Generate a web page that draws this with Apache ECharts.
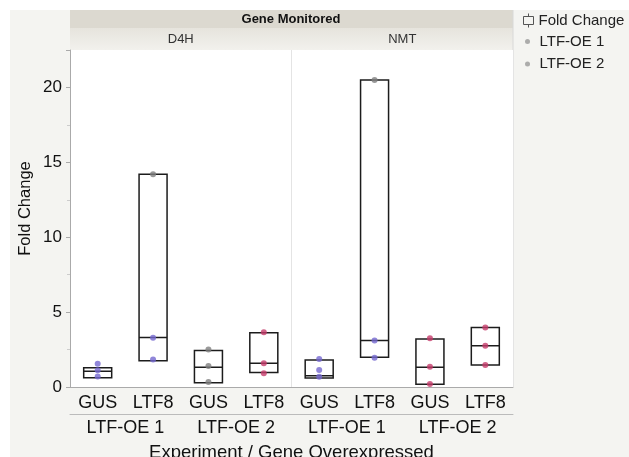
<!DOCTYPE html>
<html>
<head>
<meta charset="utf-8">
<script src="https://cdn.jsdelivr.net/npm/echarts@6/dist/echarts.min.js"></script>
<style>html,body{margin:0;padding:0;background:#fff}#c{width:629px;height:457px}</style>
</head>
<body>
<div id="c"></div>
<script>
// ---- data ----
var categories = ['GUS','LTF8','GUS','LTF8','GUS','LTF8','GUS','LTF8'];
var experiments = ['LTF-OE 1','LTF-OE 2','LTF-OE 1','LTF-OE 2'];
var genes = ['D4H','NMT'];
var boxQ1     = [0.62, 1.76, 0.29, 0.96, 0.60, 1.98, 0.18, 1.47];
var boxMedian = [1.05, 3.30, 1.32, 1.59, 0.75, 3.10, 1.32, 2.76];
var boxQ3     = [1.29, 14.2, 2.43, 3.63, 1.81, 20.5, 3.21, 3.97];
var points = [
  [1.55, 1.12, 0.70],
  [14.2, 3.28, 1.84],
  [2.50, 1.40, 0.33],
  [3.66, 1.59, 0.91],
  [1.87, 1.14, 0.69],
  [20.5, 3.10, 1.95],
  [3.25, 1.35, 0.20],
  [3.97, 2.76, 1.47]
];
var experimentOfCat = [0, 0, 1, 1, 0, 0, 1, 1];
var yTicks = [0, 5, 10, 15, 20];

// ---- styles ----
var FONT = 'Liberation Sans, Arial, Helvetica, sans-serif';
var PURPLE = '#7468cf', PINK = '#c63c6c', GRAY = '#808080';
function pointColor(ci, v) {
  if (v > 10) return GRAY;
  if (ci === 2) return GRAY;
  return experimentOfCat[ci] === 0 ? PURPLE : PINK;
}

var boxData = categories.map(function (c, i) {
  return [boxQ1[i], boxQ1[i], boxMedian[i], boxQ3[i], boxQ3[i]];
});
function scatterFor(exp) {
  var out = [];
  points.forEach(function (arr, ci) {
    if (experimentOfCat[ci] !== exp) return;
    arr.forEach(function (v) {
      out.push({ value: [ci, v], itemStyle: { color: pointColor(ci, v) } });
    });
  });
  return out;
}

var chart = echarts.init(document.getElementById('c'), null, { renderer: 'canvas' });
var option = {
  backgroundColor: '#f4f4f1',
  animation: false,
  textStyle: { fontFamily: FONT },
  title: {
    text: 'Gene Monitored', left: 291, top: 13, textAlign: 'center', padding: 0,
    textStyle: { fontSize: 13, fontWeight: 'bold', color: '#111', fontFamily: FONT }
  },
  legend: [
    {
      orient: 'vertical', left: 523, top: 13, itemWidth: 10, itemHeight: 14, padding: 0,
      data: [{ name: 'Fold Change', icon: 'path://M5,0 L5,3 M0,3 L10,3 L10,11 L0,11 Z M5,11 L5,14' }],
      itemStyle: { color: 'rgba(0,0,0,0)', borderColor: '#555', borderWidth: 1 },
      textStyle: { fontSize: 15, color: '#222', fontFamily: FONT }
    },
    {
      orient: 'vertical', left: 525, top: 34, itemWidth: 14, itemHeight: 5, itemGap: 7.5, padding: 0,
      data: [
        { name: 'LTF-OE 1', icon: 'circle', itemStyle: { color: '#9a9a9a', borderWidth: 0 } },
        { name: 'LTF-OE 2', icon: 'circle', itemStyle: { color: '#9a9a9a', borderWidth: 0 } }
      ],
      textStyle: { fontSize: 15, color: '#222', fontFamily: FONT }
    }
  ],
  grid: { left: 70, right: 116, top: 50, bottom: 70, show: true, backgroundColor: '#fff', borderWidth: 0, outerBoundsMode: 'none', containLabel: false },
  xAxis: [
    {
      type: 'category', data: categories, position: 'bottom',
      axisLine: { show: true, lineStyle: { color: '#aaa' } },
      axisTick: { show: false },
      axisLabel: { fontSize: 18, color: '#111', margin: 7, interval: 0 }
    },
    {
      type: 'category', data: experiments, position: 'bottom', offset: 27,
      axisLine: { show: true, lineStyle: { color: '#bbb' } },
      axisTick: { show: false },
      axisLabel: { fontSize: 18, color: '#111', margin: 5, interval: 0 },
      name: 'Experiment / Gene Overexpressed', nameLocation: 'middle', nameGap: 29,
      nameMoveOverlap: false,
      nameTextStyle: { fontSize: 18.5, color: '#111' }
    },
    {
      type: 'category', data: genes, position: 'top',
      axisLine: { show: false }, axisTick: { show: false },
      axisLabel: { fontSize: 13, color: '#333', margin: 4 },
      splitLine: { show: true, lineStyle: { color: '#e4e4e4' } }
    }
  ],
  yAxis: {
    type: 'value', min: 0, max: 22.5, interval: 5,
    name: 'Fold Change', nameLocation: 'middle', nameGap: 36, nameMoveOverlap: false,
    nameTextStyle: { fontSize: 16.5, color: '#111', padding: [0, 0, 0, 20] },
    axisLine: { show: true, lineStyle: { color: '#aaa' } },
    axisTick: { show: true, length: 4, lineStyle: { color: '#aaa' } },
    minorTick: { show: true, splitNumber: 2, length: 3, lineStyle: { color: '#ccc' } },
    axisLabel: {
      fontSize: 17, color: '#111', margin: 8,
      formatter: function (v) { return yTicks.indexOf(v) >= 0 ? String(v) : ''; }
    },
    splitLine: { show: false }
  },
  series: [
    {
      name: 'Fold Change', type: 'boxplot', xAxisIndex: 0, data: boxData,
      boxWidth: [28, 28],
      itemStyle: { color: 'rgba(255,255,255,0)', borderColor: '#1c1c1c', borderWidth: 1.5 },
      z: 2
    },
    {
      name: 'LTF-OE 1', type: 'scatter', xAxisIndex: 0, data: scatterFor(0),
      symbolSize: 6, itemStyle: { color: PURPLE }, z: 3
    },
    {
      name: 'LTF-OE 2', type: 'scatter', xAxisIndex: 0, data: scatterFor(1),
      symbolSize: 6, itemStyle: { color: PINK }, z: 3
    }
  ],
  graphic: [
    { type: 'rect', shape: { x: 0, y: 0, width: 629, height: 10 }, style: { fill: '#fff' }, z: -10 },
    { type: 'rect', shape: { x: 0, y: 0, width: 10, height: 457 }, style: { fill: '#fff' }, z: -10 },
    { type: 'rect', shape: { x: 70, y: 10, width: 443, height: 18 }, style: { fill: '#dcd9d0' }, z: -9 },
    {
      type: 'rect', shape: { x: 70, y: 28, width: 443, height: 22 },
      style: { fill: new echarts.graphic.LinearGradient(0, 0, 0, 1, [{ offset: 0, color: '#e6e4dd' }, { offset: 1, color: '#f2f1ed' }]) },
      z: -9
    },
    { type: 'line', shape: { x1: 513, y1: 10, x2: 513, y2: 387 }, style: { stroke: '#d8d8d8', lineWidth: 1 }, z: -8 }
  ]
};
chart.setOption(option);
</script>
</body>
</html>
